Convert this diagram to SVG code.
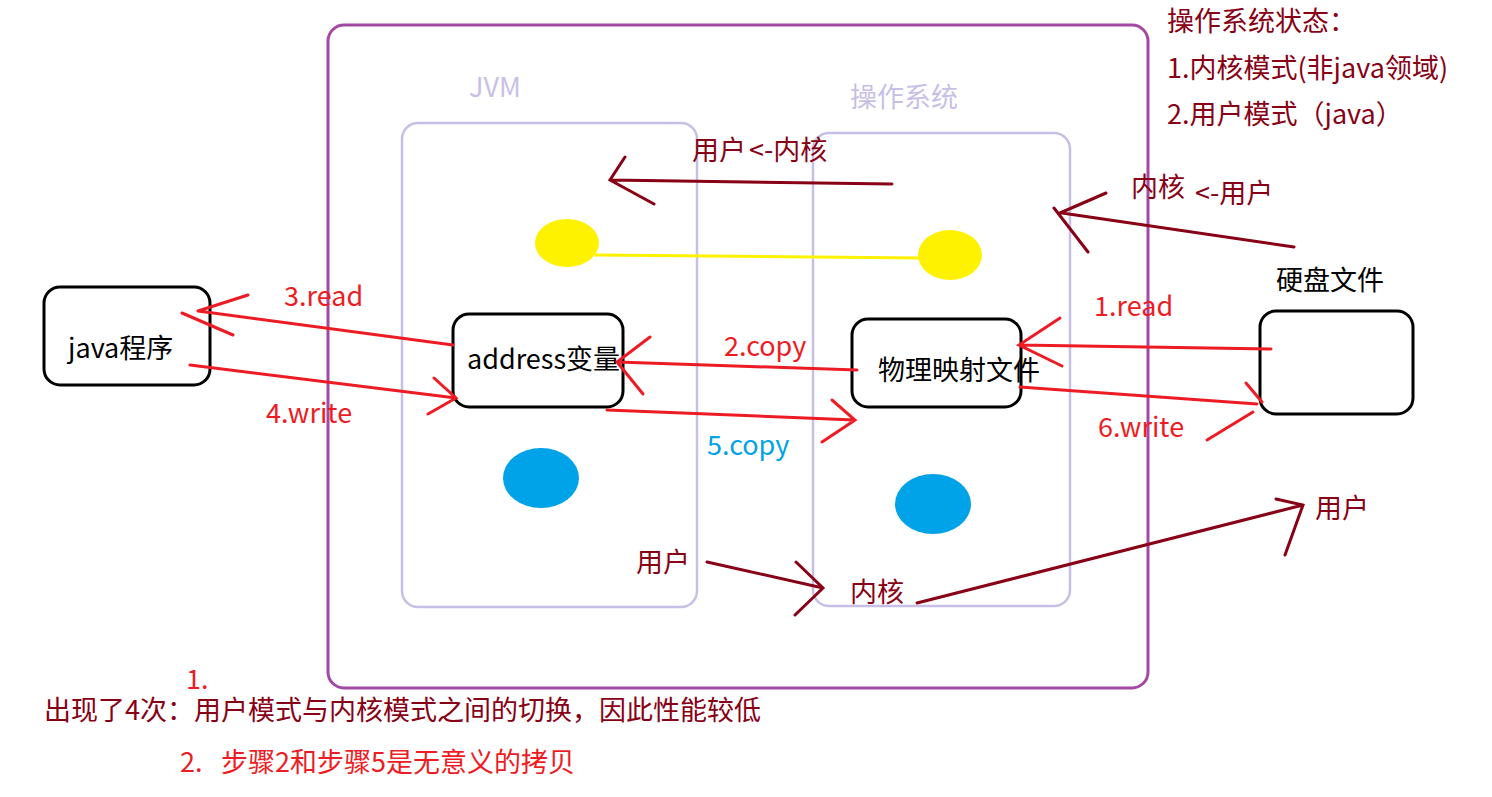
<svg xmlns="http://www.w3.org/2000/svg" width="1492" height="797" viewBox="0 0 1492 797">
<style>
text{font-family:"Microsoft YaHei","Noto Sans CJK SC","Noto Sans",sans-serif;font-size:27px}
.box{fill:#fff;stroke:#000;stroke-width:3}
.reg{fill:none;stroke:#C8BFE7;stroke-width:2.5}
.red{stroke:#ED1C24;stroke-width:3;fill:none;stroke-linecap:round}
.dred{stroke:#880015;stroke-width:3;fill:none;stroke-linecap:round}
.tr{fill:#ED1C24}
.td{fill:#880015}
.tl{fill:#C8BFE7}
</style>
<rect width="1492" height="797" fill="#fff"/>
<g id="outer"><rect x="328" y="25" width="820" height="663" rx="16" fill="none" stroke="#A349A4" stroke-width="3"/></g>
<g id="jvm"><rect class="reg" x="402" y="123" width="295" height="484" rx="16"/><text class="tl" x="469" y="97">JVM</text></g>
<g id="os"><rect class="reg" x="813" y="133" width="257" height="473" rx="16"/><text class="tl" x="850" y="107">操作系统</text></g>
<g id="ellipses">
<ellipse cx="567" cy="243" rx="32" ry="24" fill="#FFF200"/>
<ellipse cx="950" cy="255" rx="32" ry="25" fill="#FFF200"/>
<line x1="595" y1="255" x2="920" y2="258" stroke="#FFF200" stroke-width="3"/>
<ellipse cx="541" cy="478" rx="38" ry="30" fill="#00A2E8"/>
<ellipse cx="933" cy="504" rx="38" ry="30" fill="#00A2E8"/>
</g>
<g id="javaprog"><rect class="box" x="44" y="287" width="166" height="98" rx="16"/><text x="68" y="358" fill="#000">java程序</text></g>
<g id="address"><rect class="box" x="453" y="314" width="170" height="93" rx="16"/><text x="467" y="369" fill="#000">address变量</text></g>
<g id="mapfile"><rect class="box" x="852" y="319" width="169" height="88" rx="16"/><text x="878" y="380" fill="#000">物理映射文件</text></g>
<g id="disk"><rect class="box" x="1260" y="311" width="153" height="103" rx="16"/><text x="1276" y="290" fill="#000">硬盘文件</text></g>
<g id="connectors">
<path class="red" d="M453,345 L198,311 M198,311 L248,295 M182,313 L233,335"/>
<path class="red" d="M190,365 L456,398 M434,378 L456,398 L428,414"/>
<path class="red" d="M857,370 L617,362 M650,337 L617,362 L643,394"/>
<path class="red" d="M607,410 L855,420 M832,400 L855,420 L822,442"/>
<path class="red" d="M1271,349 L1019,345 M1060,318 L1019,345 L1062,366"/>
<path class="red" d="M1020,387 L1257,404 M1246,383 L1262,402 M1207,440 L1253,412"/>
<path class="dred" d="M892,184 L610,180 M625,157 L610,180 L654,204"/>
<path class="dred" d="M1294,247 L1062,213 M1106,193 L1060,213 M1054,208 L1088,252"/>
<path class="dred" d="M707,562 L823,588 M796,562 L823,588 L795,615"/>
<path class="dred" d="M917,603 L1303,505 M1276,499 L1303,505 L1285,555"/>
</g>
<g id="labels">
<text class="tr" x="284" y="306">3.read</text>
<text class="tr" x="266" y="423">4.write</text>
<text class="tr" x="724" y="356">2.copy</text>
<text fill="#00A2E8" x="707" y="455">5.copy</text>
<text class="tr" x="1094" y="316">1.read</text>
<text class="tr" x="1098" y="437">6.write</text>
<text class="td" x="692" y="160">用户<tspan dx="3">&lt;-内核</tspan></text>
<text class="td" x="1131" y="197">内核</text>
<text class="td" x="1195" y="203">&lt;-用户</text>
<text class="td" x="636" y="572">用户</text>
<text class="td" x="850" y="602">内核</text>
<text class="td" x="1315" y="518">用户</text>
<text class="td" x="1167" y="31">操作系统状态：</text>
<text class="td" x="1167" y="78">1.内核模式(非java领域)</text>
<text class="td" x="1167" y="124">2.用户模式（java）</text>
<text class="tr" x="186" y="689">1.</text>
<text class="td" x="44" y="720">出现了4次：用户模式与内核模式之间的切换，因此性能较低</text>
<text class="tr" x="180" y="772">2.<tspan x="221">步骤2和步骤5是无意义的拷贝</tspan></text>
</g>
</svg>
